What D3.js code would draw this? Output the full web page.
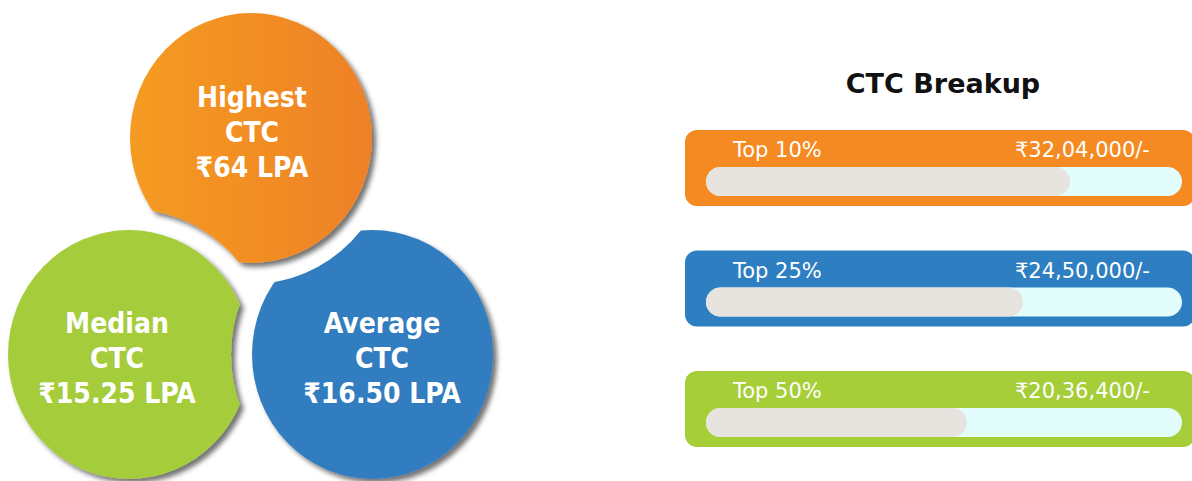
<!DOCTYPE html>
<html>
<head>
<meta charset="utf-8">
<script src="https://cdn.jsdelivr.net/npm/d3@7"></script>
<style>
  html, body { margin: 0; padding: 0; background: #fff; }
  svg { display: block; }
</style>
</head>
<body>
<div id="chart"></div>
<script>
// ---- data ----
const statLabels = ["Highest", "Median", "Average"];
const statValues = [64, 15.25, 16.50];          // LPA
const statColors = ["#F18C24", "#A5CD3A", "#317CC0"];

const breakupLabels = ["Top 10%", "Top 25%", "Top 50%"];
const breakupValues = [3204000, 2450000, 2036400]; // rupees
const fillPercent = [76.5, 66.6, 54.8];            // progress-bar fill (%)
const breakupColors = ["#F48A21", "#2E7EC2", "#A6CE39"];
const chartTitle = "CTC Breakup";

// ---- helpers ----
function inr(n) {
  const s = String(Math.round(n));
  const last3 = s.slice(-3);
  let rest = s.slice(0, -3);
  const parts = [];
  while (rest.length > 2) { parts.unshift(rest.slice(-2)); rest = rest.slice(0, -2); }
  if (rest.length) parts.unshift(rest);
  return "₹" + (parts.length ? parts.join(",") + "," : "") + last3 + "/-";
}
const lpa = v => "₹" + (Number.isInteger(v) ? v : v.toFixed(2)) + " LPA";

const W = 1192, H = 481;
const svg = d3.select("#chart").append("svg").attr("width", W).attr("height", H);
const defs = svg.append("defs");

// gradient for orange circle
const grad = defs.append("linearGradient").attr("id", "gOrange")
  .attr("x1", "0").attr("x2", "1").attr("y1", "0").attr("y2", "0");
grad.append("stop").attr("offset", "0").attr("stop-color", "#F59B20");
grad.append("stop").attr("offset", "1").attr("stop-color", "#EE8127");

const shadow = defs.append("filter").attr("id", "shadow")
  .attr("x", "-20%").attr("y", "-20%").attr("width", "140%").attr("height", "140%");
shadow.append("feDropShadow").attr("dx", 4).attr("dy", 4).attr("stdDeviation", 2.5)
  .attr("flood-color", "#000").attr("flood-opacity", 0.55);

// ---- circle layout ----
const circ = [
  { cx: 251, cy: 138, rx: 121, ry: 125, tx: 252, cut: 1 },
  { cx: 129, cy: 354.5, rx: 121, ry: 124.5, tx: 117, cut: 2 },
  { cx: 372.5, cy: 354.5, rx: 120.5, ry: 124.5, tx: 382, cut: 0 }
];
const gap = 21;
const textY = [107, 333, 333];
const lineStep = 35;

circ.forEach((c, i) => {
  const o = circ[c.cut];
  const m = defs.append("mask").attr("id", "m" + i)
    .attr("maskUnits", "userSpaceOnUse").attr("x", 0).attr("y", 0).attr("width", W).attr("height", H);
  m.append("rect").attr("width", W).attr("height", H).attr("fill", "#fff");
  m.append("ellipse").attr("cx", o.cx).attr("cy", o.cy)
    .attr("rx", o.rx + gap).attr("ry", o.ry + gap).attr("fill", "#000");
});

const cg = svg.selectAll("g.stat").data(statLabels).join("g").attr("class", "stat");
cg.append("g").attr("filter", "url(#shadow)")
  .append("ellipse")
  .attr("mask", (d, i) => `url(#m${i})`)
  .attr("cx", (d, i) => circ[i].cx)
  .attr("cy", (d, i) => circ[i].cy)
  .attr("rx", (d, i) => circ[i].rx)
  .attr("ry", (d, i) => circ[i].ry)
  .attr("fill", (d, i) => i === 0 ? "url(#gOrange)" : statColors[i]);

const lines = (d, i) => [d, "CTC", lpa(statValues[i])];
cg.each(function (d, i) {
  const t = d3.select(this).append("text")
    .attr("text-anchor", "middle")
    .attr("fill", "#fff")
    .style("font-family", "'DejaVu Sans Condensed', 'DejaVu Sans', sans-serif")
    .style("font-stretch", "condensed")
    .style("font-weight", "bold")
    .style("font-size", "28px");
  lines(d, i).forEach((s, k) => {
    t.append("tspan").attr("x", circ[i].tx).attr("y", textY[i] + k * lineStep).text(s);
  });
});

// ---- CTC Breakup ----
svg.append("text")
  .attr("x", 943).attr("y", 93)
  .attr("text-anchor", "middle")
  .attr("fill", "#111")
  .style("font-family", "'DejaVu Sans', sans-serif")
  .style("font-weight", "bold")
  .style("font-size", "27px")
  .text(chartTitle);

const boxX = 685, boxW = 510, boxH = 76;
const trackX = 706, trackW = 476, trackH = 29, trackOff = 37;
const yScale = d3.scalePoint().domain(breakupLabels).range([130, 371]);
const xScale = d3.scaleLinear().domain([0, 100]).range([0, trackW]);

const bg = svg.selectAll("g.bar").data(breakupLabels).join("g").attr("class", "bar")
  .attr("transform", d => `translate(0,${yScale(d)})`);

bg.append("rect")
  .attr("x", boxX).attr("y", 0).attr("width", boxW).attr("height", boxH)
  .attr("rx", 12).attr("fill", (d, i) => breakupColors[i]);

bg.append("rect")
  .attr("x", trackX).attr("y", trackOff).attr("width", trackW).attr("height", trackH)
  .attr("rx", trackH / 2).attr("fill", "#E3FDFD");

bg.append("rect")
  .attr("x", trackX).attr("y", trackOff)
  .attr("width", (d, i) => xScale(fillPercent[i]))
  .attr("height", trackH)
  .attr("rx", trackH / 2).attr("fill", "#E7E4DF");

bg.append("text")
  .attr("x", 733).attr("y", 27)
  .attr("fill", "#fff")
  .style("font-family", "'DejaVu Sans', sans-serif")
  .style("font-size", "21px")
  .text(d => d);

bg.append("text")
  .attr("x", 1015).attr("y", 27)
  .attr("fill", "#fff")
  .style("font-family", "'DejaVu Sans', sans-serif")
  .style("font-size", "21px")
  .text((d, i) => inr(breakupValues[i]));
</script>
</body>
</html>
